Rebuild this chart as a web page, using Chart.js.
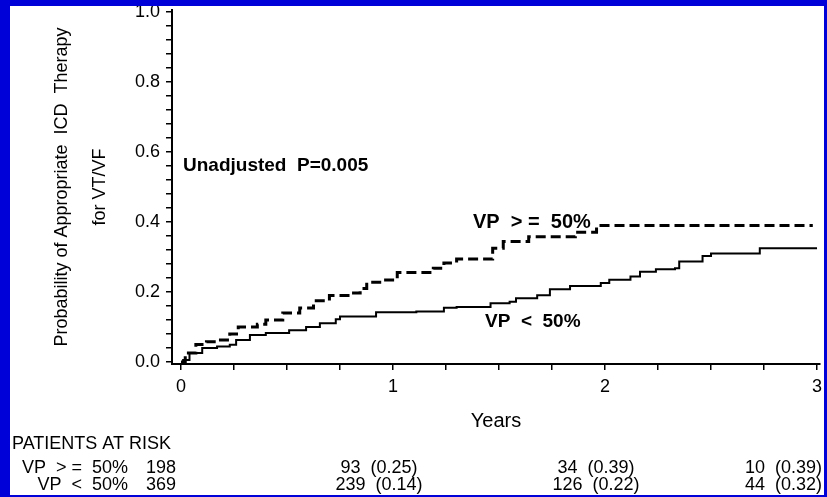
<!DOCTYPE html>
<html lang="en">
<head>
<meta charset="UTF-8">
<title>Appropriate ICD Therapy for VT/VF by VP</title>
<script src="https://cdn.jsdelivr.net/npm/chart.js"></script>
<style>
  html, body { margin: 0; padding: 0; }
  body { width: 827px; height: 497px; background: #0000d8; position: relative; overflow: hidden; }
  #frame { position: absolute; left: 10px; top: 6px; width: 814px; height: 489px; background: #fff; }
  canvas { display: block; }
</style>
</head>
<body>
<div id="frame"><canvas id="kmChart" width="814" height="489"></canvas></div>
<script>
// VP >= 50% (dashed): time in years, cumulative probability
var highVpTimes = [0, 0.02, 0.07, 0.12, 0.17, 0.23, 0.27, 0.36, 0.40, 0.48, 0.56, 0.625, 0.70, 0.80, 0.845, 0.876, 0.95, 1.02, 1.19, 1.24, 1.30, 1.47, 1.52, 1.64, 1.86, 1.96, 2.98];
var highVpProb  = [0, 0.026, 0.05, 0.058, 0.063, 0.08, 0.10, 0.108, 0.12, 0.14, 0.154, 0.175, 0.19, 0.197, 0.21, 0.228, 0.234, 0.256, 0.268, 0.283, 0.294, 0.325, 0.344, 0.358, 0.371, 0.39, 0.39];

// VP < 50% (solid)
var lowVpTimes = [0, 0.01, 0.04, 0.10, 0.17, 0.23, 0.26, 0.325, 0.40, 0.51, 0.59, 0.655, 0.73, 0.75, 0.92, 1.11, 1.24, 1.30, 1.46, 1.55, 1.58, 1.68, 1.74, 1.835, 1.98, 2.02, 2.12, 2.165, 2.24, 2.33, 2.35, 2.46, 2.50, 2.73, 3.0];
var lowVpProb  = [0, 0.006, 0.026, 0.04, 0.044, 0.049, 0.063, 0.077, 0.083, 0.091, 0.10, 0.111, 0.122, 0.13, 0.142, 0.144, 0.155, 0.157, 0.168, 0.172, 0.182, 0.191, 0.208, 0.217, 0.226, 0.235, 0.244, 0.258, 0.265, 0.268, 0.287, 0.303, 0.31, 0.325, 0.325];

// ticks
var xTickLabels = [0, 1, 2, 3];
var yTickLabels = [0.0, 0.2, 0.4, 0.6, 0.8, 1.0];

// patients at risk table
var riskGroups = ['VP  > =  50%', 'VP  <  50%'];
var riskAtStart = ['198', '369'];
var riskHigh = ['93  (0.25)', '34  (0.39)', '10  (0.39)'];
var riskLow  = ['239  (0.14)', '126  (0.22)', '44  (0.32)'];

var FONT = '"Liberation Sans", Arial, sans-serif';

function toPoints(ts, ps) {
    return ts.map(function (t, i) { return { x: t, y: ps[i] }; });
}

function isOn(v, list) {
    return list.some(function (l) { return Math.abs(l - v) < 1e-6; });
}

// text drawn on top: p-value, curve labels, risk table
var notesPlugin = {
    id: 'notes',
    afterDraw: function (chart) {
        var ctx = chart.ctx;
        ctx.save();
        ctx.fillStyle = '#000';
        ctx.textBaseline = 'middle';

        ctx.font = 'bold 19px ' + FONT;
        ctx.textAlign = 'left';
        ctx.fillText('Unadjusted  P=0.005', 173, 160);
        ctx.font = 'bold 20px ' + FONT;
        ctx.fillText('VP  > =  50%', 463, 216);
        ctx.font = 'bold 19px ' + FONT;
        ctx.fillText('VP  <  50%', 475, 316);

        ctx.font = '18px ' + FONT;
        ctx.fillText('PATIENTS AT RISK', 2, 438);

        var rowsY = [462, 479];
        var cols = [369, 586];
        for (var r = 0; r < 2; r++) {
            ctx.textAlign = 'right';
            ctx.fillText(riskGroups[r], 118, rowsY[r]);
            ctx.textAlign = 'center';
            ctx.fillText(riskAtStart[r], 151, rowsY[r]);
            var row = r === 0 ? riskHigh : riskLow;
            for (var c = 0; c < 2; c++) {
                ctx.fillText(row[c], cols[c], rowsY[r]);
            }
            ctx.textAlign = 'right';
            ctx.fillText(row[2], 812, rowsY[r]);
        }
        ctx.restore();
    }
};

new Chart(document.getElementById('kmChart'), {
    type: 'line',
    data: {
        datasets: [{
            label: 'VP >= 50%',
            data: toPoints(highVpTimes, highVpProb),
            borderColor: '#000',
            borderWidth: 3,
            borderDash: [10, 5],
            stepped: true,
            pointRadius: 0,
            fill: false
        }, {
            label: 'VP < 50%',
            data: toPoints(lowVpTimes, lowVpProb),
            borderColor: '#000',
            borderWidth: 2,
            stepped: true,
            pointRadius: 0,
            fill: false
        }]
    },
    options: {
        responsive: false,
        animation: false,
        layout: { padding: { top: 4, right: 4, bottom: 0, left: 0 } },
        plugins: {
            legend: { display: false },
            tooltip: { enabled: false }
        },
        scales: {
            x: {
                type: 'linear',
                min: -0.0425,
                max: 3.014,
                border: { display: true, color: '#000', width: 2 },
                grid: { drawOnChartArea: false, drawTicks: true, tickLength: 6, color: '#000', lineWidth: 1.5 },
                afterBuildTicks: function (scale) {
                    var t = [];
                    for (var i = 0; i <= 12; i++) t.push({ value: i * 0.25 });
                    scale.ticks = t;
                },
                ticks: {
                    autoSkip: false,
                    maxRotation: 0,
                    padding: 6,
                    color: '#000',
                    font: { family: FONT, size: 18 },
                    callback: function (v) { return isOn(v, xTickLabels) ? String(Math.round(v)) : ''; }
                },
                title: {
                    display: true,
                    text: 'Years',
                    color: '#000',
                    font: { family: FONT, size: 20 },
                    padding: { top: 0, bottom: 62 }
                },
                afterFit: function (scale) {
                    scale.height = 131;
                    scale.paddingLeft = 0;
                    scale.paddingRight = 0;
                }
            },
            y: {
                min: -0.0057,
                max: 1.0057,
                border: { display: true, color: '#000', width: 2 },
                grid: { drawOnChartArea: false, drawTicks: true, tickLength: 6, color: '#000', lineWidth: 1.5 },
                afterBuildTicks: function (scale) {
                    var t = [];
                    for (var i = 0; i <= 25; i++) t.push({ value: i * 0.04 });
                    scale.ticks = t;
                },
                ticks: {
                    autoSkip: false,
                    padding: 6,
                    color: '#000',
                    font: { family: FONT, size: 18 },
                    callback: function (v) { return isOn(v, yTickLabels) ? v.toFixed(1) : ''; }
                },
                title: {
                    display: true,
                    text: ['Probability of Appropriate  ICD  Therapy', 'for VT/VF'],
                    color: '#000',
                    font: { family: FONT, size: 18, lineHeight: 38 / 18 },
                    padding: { top: 33, bottom: 0 }
                },
                afterFit: function (scale) {
                    scale.width = 162;
                    scale.paddingTop = 0;
                    scale.paddingBottom = 0;
                }
            }
        }
    },
    plugins: [notesPlugin]
});
</script>
</body>
</html>
